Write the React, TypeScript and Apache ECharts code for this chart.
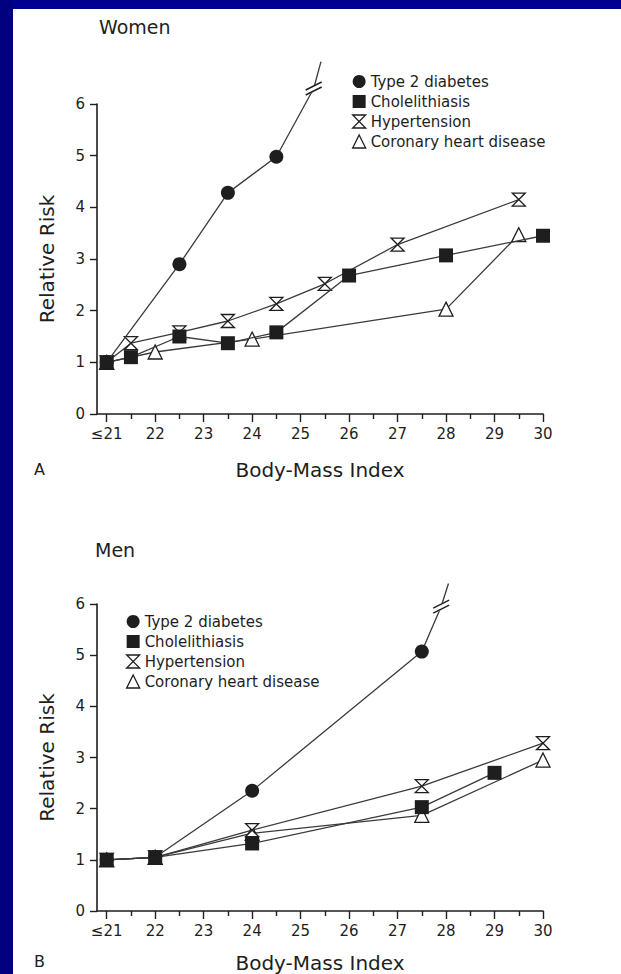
import React, { useEffect, useRef } from "react";
import * as echarts from "echarts";

// ---- data ----
const bmiTicks = [21, 22, 23, 24, 25, 26, 27, 28, 29, 30];
const bmiTickLabels = ["≤21", "22", "23", "24", "25", "26", "27", "28", "29", "30"];
const bmiHalfTicks = [21.5, 22.5, 23.5, 24.5, 25.5, 26.5, 27.5, 28.5, 29.5];
const riskTicks = [0, 1, 2, 3, 4, 5, 6];

const seriesNames = ["Type 2 diabetes", "Cholelithiasis", "Hypertension", "Coronary heart disease"];

// Women (panel A)
const diabetesW = [[21, 1.0], [22.5, 2.9], [23.5, 4.28], [24.5, 4.98]];
const diabetesWExt = [[24.5, 4.98], [25.27, 6.3], [25.42, 6.82]];
const diabetesWBreak = [[25.27, 6.3]];
const cholelithiasisW = [[21, 1.0], [21.5, 1.1], [22.5, 1.5], [23.5, 1.37], [24.5, 1.58], [26, 2.68], [28, 3.07], [30, 3.45]];
const hypertensionW = [[21, 1.0], [21.5, 1.37], [22.5, 1.58], [23.5, 1.8], [24.5, 2.13], [25.5, 2.52], [27, 3.28], [29.5, 4.15]];
const chdW = [[21, 1.0], [22, 1.2], [24, 1.45], [28, 2.03], [29.5, 3.47]];

// Men (panel B)
const diabetesM = [[21, 1.0], [22, 1.05], [24, 2.35], [27.5, 5.07]];
const diabetesMExt = [[27.5, 5.07], [27.9, 5.95], [28.05, 6.4]];
const diabetesMBreak = [[27.9, 5.95]];
const cholelithiasisM = [[21, 1.0], [22, 1.05], [24, 1.32], [27.5, 2.03], [29, 2.7]];
const hypertensionM = [[21, 1.0], [22, 1.05], [24, 1.58], [27.5, 2.44], [30, 3.28]];
const chdM = [[21, 1.0], [22, 1.05], [24, 1.52], [27.5, 1.87], [30, 2.95]];

// ---- styles ----
const FONT = "DejaVu Sans";
const INK = "#1e1e1e";
const LINE = "#3a3a3a";
const HOURGLASS = "path://M0,0L10,0L0,10L10,10Z";

const markerDefs = [
  { symbol: "circle", size: 14, fill: INK },
  { symbol: "rect", size: 14, fill: INK },
  { symbol: HOURGLASS, size: 13, fill: "#ffffff" },
  { symbol: "triangle", size: 14, fill: "#ffffff" },
];

function lineSeries(nameIdx: number, data: number[][], xi: number, yi: number) {
  const m = markerDefs[nameIdx];
  return {
    type: "line",
    name: seriesNames[nameIdx],
    xAxisIndex: xi,
    yAxisIndex: yi,
    data,
    symbol: m.symbol,
    symbolSize: m.size,
    showAllSymbol: true,
    clip: false,
    lineStyle: { color: LINE, width: 1.3 },
    itemStyle: { color: m.fill, borderColor: INK, borderWidth: m.fill === INK ? 0 : 1.3, opacity: 1 },
    emphasis: { disabled: true },
    z: 3 + (3 - nameIdx),
  };
}

function extSeries(data: number[][], xi: number, yi: number) {
  return {
    type: "line",
    name: "ext",
    xAxisIndex: xi,
    yAxisIndex: yi,
    data,
    symbol: "none",
    clip: false,
    lineStyle: { color: LINE, width: 1.3 },
    emphasis: { disabled: true },
    silent: true,
    z: 2,
  };
}

function breakSeries(data: number[][], xi: number, yi: number) {
  return {
    type: "custom",
    xAxisIndex: xi,
    yAxisIndex: yi,
    data,
    clip: false,
    silent: true,
    z: 4,
    renderItem: (params: any, api: any) => {
      const p = api.coord([api.value(0), api.value(1)]);
      const mk = (dy: number) => ({
        type: "line",
        shape: { x1: p[0] - 8, y1: p[1] + 4 + dy, x2: p[0] + 8, y2: p[1] - 4 + dy },
        style: { stroke: INK, lineWidth: 1.4 },
      });
      return {
        type: "group",
        children: [
          { type: "line", shape: { x1: p[0] - 7, y1: p[1] + 4.5, x2: p[0] + 7, y2: p[1] - 4.5 }, style: { stroke: "#fff", lineWidth: 5 } },
          mk(-2.5),
          mk(2.5),
        ],
      };
    },
  };
}

function xAxes(gridIndex: number) {
  return [
    {
      type: "value",
      gridIndex,
      position: "bottom",
      min: 20.8,
      max: 30,
      name: "Body-Mass Index",
      nameLocation: "middle",
      nameGap: gridIndex === 0 ? 46 : 42,
      nameTextStyle: { fontFamily: FONT, fontSize: 20, color: INK },
      axisLine: { show: true, onZero: false, lineStyle: { color: INK, width: 1.6 } },
      axisTick: { show: true, customValues: bmiTicks, length: 8, lineStyle: { color: INK, width: 1.4 } },
      axisLabel: {
        show: true,
        customValues: bmiTicks,
        margin: 12,
        fontFamily: FONT,
        fontSize: 15,
        color: INK,
        formatter: (v: number) => {
          const i = bmiTicks.indexOf(Math.round(v));
          return i >= 0 ? bmiTickLabels[i] : "";
        },
      },
      splitLine: { show: false },
    },
    {
      type: "value",
      gridIndex,
      position: "bottom",
      min: 20.8,
      max: 30,
      axisLine: { show: false, onZero: false },
      axisTick: { show: true, customValues: bmiHalfTicks, length: 5, lineStyle: { color: INK, width: 1.4 } },
      axisLabel: { show: false },
      splitLine: { show: false },
    },
  ];
}

function yAxis(gridIndex: number) {
  return {
    type: "value",
    gridIndex,
    min: 0,
    max: 6,
    interval: 1,
    name: "Relative Risk",
    nameLocation: "middle",
    nameGap: 40,
    nameTextStyle: { fontFamily: FONT, fontSize: 20, color: INK },
    axisLine: { show: true, lineStyle: { color: INK, width: 1.6 } },
    axisTick: { show: true, length: 7, lineStyle: { color: INK, width: 1.4 } },
    axisLabel: {
      margin: 12,
      fontFamily: FONT,
      fontSize: 15,
      color: INK,
      formatter: (v: number) => (riskTicks.indexOf(v) >= 0 ? String(v) : ""),
    },
    splitLine: { show: false },
  };
}

function legendFor(left: number, top: number) {
  return {
    orient: "vertical",
    left,
    top,
    itemGap: 5,
    itemWidth: 13,
    itemHeight: 13,
    selectedMode: false,
    padding: 0,
    textStyle: { fontFamily: FONT, fontSize: 15, color: INK },
    data: seriesNames.map((n, i) => ({
      name: n,
      icon: markerDefs[i].symbol,
      itemStyle: {
        color: markerDefs[i].fill,
        borderColor: INK,
        borderWidth: markerDefs[i].fill === INK ? 0 : 1.3,
      },
    })),
  };
}

export default function App() {
  const ref = useRef<HTMLDivElement>(null);
  useEffect(() => {
    if (!ref.current) return;
    const chart = echarts.init(ref.current, undefined, { renderer: "svg" });
    const option: any = {
      animation: false,
      backgroundColor: "#ffffff",
      title: [
        { text: "Women", left: 99, top: 17, padding: 0, textStyle: { fontFamily: FONT, fontSize: 19, fontWeight: "normal", color: INK } },
        { text: "Men", left: 95, top: 540, padding: 0, textStyle: { fontFamily: FONT, fontSize: 19, fontWeight: "normal", color: INK } },
      ],
      graphic: [
        { type: "rect", left: 0, top: 0, shape: { width: 621, height: 9 }, style: { fill: "#000090" }, silent: true },
        { type: "rect", left: 0, top: 0, shape: { width: 13, height: 974 }, style: { fill: "#000080" }, silent: true },
        { type: "text", left: 34, top: 461, style: { text: "A", fontFamily: FONT, fontSize: 16, fill: INK } },
        { type: "text", left: 34, top: 953, style: { text: "B", fontFamily: FONT, fontSize: 16, fill: INK } },
      ],
      legend: [legendFor(352, 74), legendFor(126, 614)],
      grid: [
        { left: 97, top: 104, width: 446, height: 310 },
        { left: 97, top: 604, width: 446, height: 309 },
      ],
      xAxis: [...xAxes(0), ...xAxes(1)],
      yAxis: [yAxis(0), yAxis(1)],
      series: [
        extSeries(diabetesWExt, 0, 0),
        breakSeries(diabetesWBreak, 0, 0),
        lineSeries(3, chdW, 0, 0),
        lineSeries(2, hypertensionW, 0, 0),
        lineSeries(1, cholelithiasisW, 0, 0),
        lineSeries(0, diabetesW, 0, 0),
        extSeries(diabetesMExt, 2, 1),
        breakSeries(diabetesMBreak, 2, 1),
        lineSeries(3, chdM, 2, 1),
        lineSeries(2, hypertensionM, 2, 1),
        lineSeries(1, cholelithiasisM, 2, 1),
        lineSeries(0, diabetesM, 2, 1),
      ],
    };
    chart.setOption(option);
    return () => chart.dispose();
  }, []);
  return (
    <div
      ref={ref}
      style={{ position: "fixed", left: 0, top: 0, width: 621, height: 974, background: "#fff" }}
    />
  );
}
